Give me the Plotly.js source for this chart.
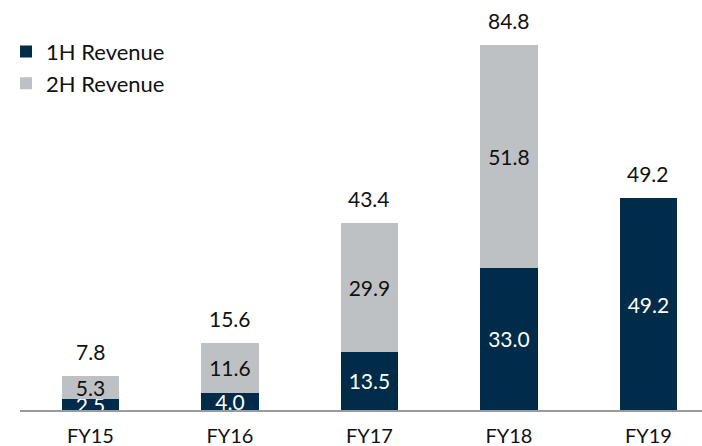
<!DOCTYPE html>
<html>
<head>
<meta charset="utf-8">
<script src="https://cdn.plot.ly/plotly-3.0.1.min.js"></script>
<style>html,body{margin:0;padding:0;background:#fff;}#chart{width:702px;height:446px;}</style>
</head>
<body>
<div id="chart"></div>
<script>
const categories = ["FY15", "FY16", "FY17", "FY18", "FY19"];
const firstHalf = [2.5, 4.0, 13.5, 33.0, 49.2];
const secondHalf = [5.3, 11.6, 29.9, 51.8, null];
const totals = [7.8, 15.6, 43.4, 84.8, 49.2];

const NAVY = "#002B49";
const GRAY = "#BEC1C4";
const FONT = "Lato, 'Open Sans', sans-serif";

const traces = [
  {
    type: "bar", name: "1H Revenue", x: categories, y: firstHalf,
    marker: {color: NAVY},
    text: firstHalf.map(v => v.toFixed(1)),
    textposition: "inside", insidetextanchor: "middle", constraintext: "none",
    textfont: {color: "#ffffff", size: 21, family: FONT},
    hoverinfo: "skip"
  },
  {
    type: "bar", name: "2H Revenue", x: categories, y: secondHalf,
    marker: {color: GRAY},
    text: secondHalf.map(v => v == null ? "" : v.toFixed(1)),
    textposition: "inside", insidetextanchor: "middle", constraintext: "none",
    textfont: {color: "#111111", size: 21, family: FONT},
    hoverinfo: "skip"
  }
];

const annotations = categories.map((c, i) => ({
  x: c, y: totals[i], xref: "x", yref: "y",
  text: totals[i].toFixed(1), showarrow: false,
  yanchor: "bottom", yshift: 10,
  font: {size: 21, color: "#111111", family: FONT}
}));

const layout = {
  width: 702, height: 446,
  margin: {l: 20, r: 0, t: 0, b: 36},
  paper_bgcolor: "#ffffff", plot_bgcolor: "#ffffff",
  barmode: "stack", bargap: 0.59,
  font: {family: FONT, color: "#111111"},
  showlegend: true,
  legend: {
    x: -0.0205, y: 0.925, xanchor: "left", yanchor: "top",
    font: {size: 22, family: FONT, color: "#111111"},
    traceorder: "normal", bgcolor: "rgba(0,0,0,0)",
    tracegroupgap: 0, itemwidth: 30
  },
  xaxis: {
    type: "category", range: [-0.505, 4.384],
    showline: true, linecolor: "#9a9a9a", linewidth: 2,
    showgrid: false, zeroline: false, ticks: "",
    tickfont: {size: 20, family: FONT, color: "#111111"},
    ticklabelstandoff: 7, fixedrange: true
  },
  yaxis: {
    range: [0, 95.2], visible: false, showgrid: false, zeroline: false, fixedrange: true
  },
  annotations: annotations
};

Plotly.newPlot("chart", traces, layout, {displayModeBar: false, staticPlot: true});
</script>
</body>
</html>
